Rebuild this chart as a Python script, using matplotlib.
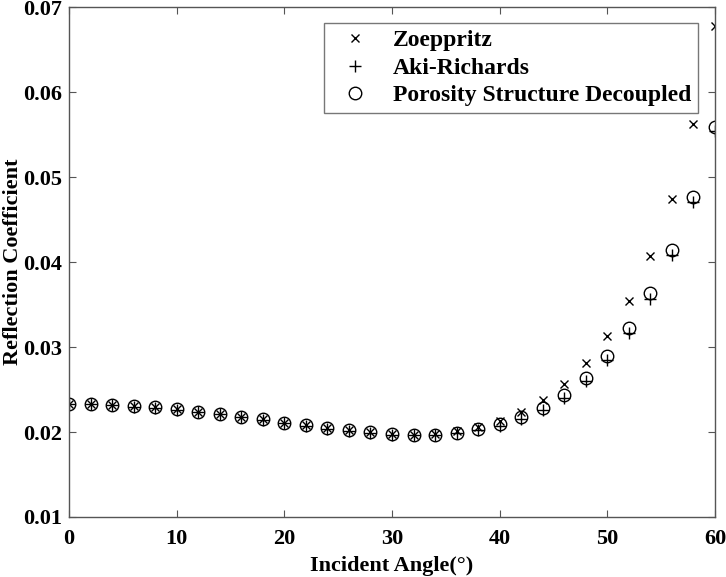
import matplotlib.pyplot as plt

angles = list(range(0, 62, 2))

zoeppritz = [0.0233, 0.0233, 0.0232, 0.0231, 0.0229, 0.0227, 0.0224, 0.0221,
             0.0218, 0.0215, 0.0211, 0.0208, 0.0205, 0.0202, 0.0200, 0.0198,
             0.0197, 0.0198, 0.0201, 0.0206, 0.0213, 0.0224, 0.0238, 0.0256,
             0.0281, 0.0313, 0.0354, 0.0407, 0.0474, 0.0562, 0.0678]

aki_richards = [0.0233, 0.0233, 0.0232, 0.0230, 0.0228, 0.0226, 0.0224, 0.0221,
                0.0218, 0.0214, 0.0211, 0.0207, 0.0204, 0.0201, 0.0199, 0.0197,
                0.0196, 0.0197, 0.0199, 0.0202, 0.0207, 0.0215, 0.0226, 0.0240,
                0.0260, 0.0285, 0.0316, 0.0357, 0.0408, 0.0471, 0.0554]

porosity = [0.0233, 0.0233, 0.0232, 0.0231, 0.0229, 0.0227, 0.0224, 0.0221,
            0.0218, 0.0215, 0.0211, 0.0208, 0.0205, 0.0202, 0.0200, 0.0198,
            0.0197, 0.0197, 0.0199, 0.0203, 0.0209, 0.0218, 0.0228, 0.0243,
            0.0264, 0.0289, 0.0322, 0.0363, 0.0414, 0.0477, 0.0559]

plt.rcParams["font.family"] = ["Liberation Serif", "DejaVu Serif"]
plt.rcParams["font.weight"] = "bold"

fig = plt.figure(figsize=(7.26, 5.77), dpi=100)
ax = fig.add_axes([69 / 726, 1 - 517 / 577, 646 / 726, 510 / 577])

ax.plot(angles, zoeppritz, linestyle="none", marker="x", markersize=6,
        markeredgewidth=1.0, color="black", label="Zoeppritz")
ax.plot(angles, aki_richards, linestyle="none", marker="+", markersize=9,
        markeredgewidth=1.0, color="black", label="Aki-Richards")
ax.plot(angles, porosity, linestyle="none", marker="o", markersize=9,
        markeredgewidth=1.0, markerfacecolor="none", color="black",
        label="Porosity Structure Decoupled")

ax.set_xlim(0, 60)
ax.set_ylim(0.01, 0.07)
ax.set_xticks(range(0, 70, 10))
ax.set_yticks([0.01, 0.02, 0.03, 0.04, 0.05, 0.06, 0.07])
ax.set_yticklabels(["0.01", "0.02", "0.03", "0.04", "0.05", "0.06", "0.07"])

for s in ax.spines.values():
    s.set_color("#555555")
    s.set_linewidth(1.0)
ax.tick_params(direction="in", top=True, right=True, length=5, color="#555555",
               labelsize=16)
ax.tick_params(axis="x", pad=9)
ax.tick_params(axis="y", pad=5)
for lab in ax.get_xticklabels() + ax.get_yticklabels():
    lab.set_fontweight("bold")

ax.set_xlabel("Incident Angle(°)", fontsize=16, fontweight="bold", labelpad=5)
ax.set_ylabel("Reflection Coefficient", fontsize=16, fontweight="bold")
ax.yaxis.set_label_coords(-0.071, 0.5)

leg = ax.legend(loc="upper right", bbox_to_anchor=(0.974, 0.969),
                frameon=True, fancybox=False, handletextpad=0.6,
                borderpad=0.3, labelspacing=0.25, borderaxespad=0,
                prop={"weight": "bold", "size": 17})
leg.get_frame().set_edgecolor("#555555")
leg.get_frame().set_linewidth(1.0)

fig.savefig("out.png", dpi=100)
